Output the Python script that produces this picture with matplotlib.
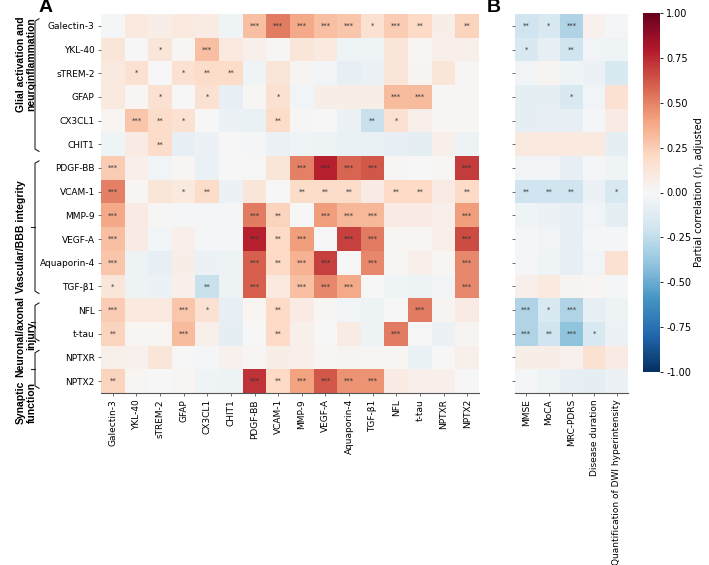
import numpy as np
import matplotlib
matplotlib.use("Agg")
import matplotlib.pyplot as plt
from matplotlib import transforms

# biomarcadores (linhas e colunas do painel A)
marcadores = ['Galectin-3', 'YKL-40', 'sTREM-2', 'GFAP', 'CX3CL1', 'CHIT1',
              'PDGF-BB', 'VCAM-1', 'MMP-9', 'VEGF-A', 'Aquaporin-4', 'TGF-β1',
              'NFL', 't-tau', 'NPTXR', 'NPTX2']

# medidas clinicas (colunas do painel B)
clinicas = ['MMSE', 'MoCA', 'MRC-PDRS', 'Disease duration',
            'Quantification of DWI hyperintensity']

# grupos: (nome, primeira linha, ultima linha)
grupos = [('Glial activation and\nneuroinflammation', 0, 5),
          ('Vascular/BBB integrity', 6, 11),
          ('Neuronal/axonal\ninjury', 12, 13),
          ('Synaptic\nfunction', 14, 15)]

# correlacoes parciais entre biomarcadores
corr_a = np.array([
    [-0.02, 0.10, 0.07, 0.10, 0.08, -0.04, 0.30, 0.52, 0.38, 0.30, 0.28, 0.15, 0.25, 0.20, 0.06, 0.22],
    [0.12, 0.00, 0.12, 0.02, 0.30, 0.10, 0.05, 0.01, 0.12, 0.10, -0.04, -0.04, 0.12, 0.02, 0.05, 0.05],
    [0.10, 0.15, 0.00, 0.15, 0.18, 0.18, -0.04, 0.12, 0.03, -0.03, -0.08, -0.06, 0.12, 0.03, 0.12, 0.01],
    [0.10, 0.02, 0.15, 0.00, 0.15, -0.08, 0.01, 0.15, -0.03, 0.06, 0.07, 0.06, 0.32, 0.32, 0.01, 0.01],
    [0.02, 0.28, 0.18, 0.15, 0.00, -0.06, -0.07, 0.18, 0.01, 0.00, -0.06, -0.22, 0.15, 0.05, 0.02, 0.01],
    [-0.04, 0.08, 0.18, -0.08, -0.06, 0.00, -0.02, -0.06, -0.04, -0.05, -0.07, -0.07, -0.08, -0.09, 0.05, -0.05],
    [0.25, 0.05, -0.03, 0.02, -0.07, 0.00, 0.00, 0.12, 0.50, 0.78, 0.58, 0.62, 0.01, 0.00, 0.01, 0.70],
    [0.50, 0.02, 0.12, 0.10, 0.18, -0.06, 0.12, 0.00, 0.18, 0.18, 0.18, 0.08, 0.20, 0.20, 0.08, 0.20],
    [0.38, 0.08, 0.01, -0.01, -0.01, -0.02, 0.52, 0.22, 0.00, 0.42, 0.33, 0.33, 0.08, 0.08, 0.05, 0.42],
    [0.30, 0.08, -0.03, 0.05, -0.01, -0.02, 0.78, 0.20, 0.42, 0.00, 0.68, 0.52, 0.02, 0.01, 0.05, 0.65],
    [0.28, -0.05, -0.08, 0.06, -0.06, -0.05, 0.60, 0.20, 0.35, 0.68, 0.00, 0.48, 0.01, 0.05, 0.02, 0.48],
    [0.12, -0.05, -0.06, 0.05, -0.22, -0.05, 0.60, 0.10, 0.30, 0.48, 0.38, 0.00, -0.04, -0.05, -0.03, 0.48],
    [0.25, 0.10, 0.10, 0.28, 0.15, -0.08, 0.02, 0.20, 0.08, 0.02, -0.03, -0.05, 0.00, 0.52, 0.03, 0.08],
    [0.22, 0.02, 0.02, 0.32, 0.05, -0.10, 0.00, 0.20, 0.05, 0.00, 0.08, -0.05, 0.52, 0.00, -0.06, 0.03],
    [0.05, 0.04, 0.12, 0.00, -0.02, 0.04, 0.01, 0.06, 0.05, 0.02, 0.03, 0.01, 0.02, -0.07, 0.00, 0.05],
    [0.22, 0.02, 0.00, 0.02, -0.04, -0.05, 0.72, 0.20, 0.40, 0.62, 0.45, 0.45, 0.08, 0.05, 0.05, 0.00],
])

# numero de asteriscos (significancia) no painel A
sig_a = np.array([
    [0, 0, 0, 0, 0, 0, 3, 3, 3, 3, 3, 1, 3, 2, 0, 2],
    [0, 0, 1, 0, 3, 0, 0, 0, 0, 0, 0, 0, 0, 0, 0, 0],
    [0, 1, 0, 1, 2, 2, 0, 0, 0, 0, 0, 0, 0, 0, 0, 0],
    [0, 0, 1, 0, 1, 0, 0, 1, 0, 0, 0, 0, 3, 3, 0, 0],
    [0, 3, 2, 1, 0, 0, 0, 2, 0, 0, 0, 2, 1, 0, 0, 0],
    [0, 0, 2, 0, 0, 0, 0, 0, 0, 0, 0, 0, 0, 0, 0, 0],
    [3, 0, 0, 0, 0, 0, 0, 0, 3, 3, 3, 3, 0, 0, 0, 3],
    [3, 0, 0, 1, 2, 0, 0, 0, 2, 2, 2, 0, 2, 2, 0, 2],
    [3, 0, 0, 0, 0, 0, 3, 2, 0, 3, 3, 3, 0, 0, 0, 3],
    [3, 0, 0, 0, 0, 0, 3, 2, 3, 0, 3, 3, 0, 0, 0, 3],
    [3, 0, 0, 0, 0, 0, 3, 2, 3, 3, 0, 3, 0, 0, 0, 3],
    [1, 0, 0, 0, 2, 0, 3, 0, 3, 3, 3, 0, 0, 0, 0, 3],
    [3, 0, 0, 3, 1, 0, 0, 2, 0, 0, 0, 0, 0, 3, 0, 0],
    [2, 0, 0, 3, 0, 0, 0, 2, 0, 0, 0, 0, 3, 0, 0, 0],
    [0, 0, 0, 0, 0, 0, 0, 0, 0, 0, 0, 0, 0, 0, 0, 0],
    [2, 0, 0, 0, 0, 0, 3, 2, 3, 3, 3, 3, 0, 0, 0, 0],
])

# correlacoes com medidas clinicas (painel B)
corr_b = np.array([
    [-0.20, -0.15, -0.30, 0.04, -0.02],
    [-0.15, -0.08, -0.20, -0.03, -0.04],
    [-0.03, 0.03, -0.04, -0.06, -0.15],
    [-0.10, -0.10, -0.15, -0.03, 0.15],
    [-0.10, -0.08, -0.08, -0.02, 0.08],
    [0.10, 0.10, 0.10, 0.10, -0.10],
    [-0.03, -0.03, -0.08, -0.02, -0.04],
    [-0.20, -0.20, -0.20, -0.06, -0.15],
    [-0.04, -0.06, -0.08, -0.03, -0.10],
    [-0.02, -0.03, -0.08, -0.02, -0.01],
    [-0.02, -0.04, -0.08, -0.03, 0.15],
    [0.05, 0.10, 0.03, 0.02, -0.02],
    [-0.30, -0.15, -0.30, -0.08, -0.05],
    [-0.30, -0.20, -0.40, -0.15, -0.06],
    [0.06, 0.06, 0.04, 0.15, 0.08],
    [-0.02, -0.04, -0.08, -0.10, -0.06],
])

sig_b = np.array([
    [2, 1, 3, 0, 0],
    [1, 0, 2, 0, 0],
    [0, 0, 0, 0, 0],
    [0, 0, 1, 0, 0],
    [0, 0, 0, 0, 0],
    [0, 0, 0, 0, 0],
    [0, 0, 0, 0, 0],
    [2, 2, 2, 0, 1],
    [0, 0, 0, 0, 0],
    [0, 0, 0, 0, 0],
    [0, 0, 0, 0, 0],
    [0, 0, 0, 0, 0],
    [3, 1, 3, 0, 0],
    [3, 2, 3, 1, 0],
    [0, 0, 0, 0, 0],
    [0, 0, 0, 0, 0],
])

W, H = 709, 565


def retangulo(x0, y0, x1, y1):
    return [x0 / W, 1 - y1 / H, (x1 - x0) / W, (y1 - y0) / H]


def desenhar_heatmap(ax, valores, sig, xlabels, ylabels):
    im = ax.imshow(valores, cmap='RdBu_r', vmin=-1, vmax=1, aspect='auto',
                   interpolation='nearest')
    for i in range(valores.shape[0]):
        for j in range(valores.shape[1]):
            if sig[i, j] > 0:
                ax.text(j, i, '*' * sig[i, j], ha='center', va='center',
                        fontsize=5, color='#333333')
    ax.set_xticks(range(len(xlabels)))
    ax.set_xticklabels(xlabels, rotation=90, fontsize=6.5)
    ax.set_yticks(range(valores.shape[0]))
    ax.set_yticklabels(ylabels, fontsize=6.5)
    ax.tick_params(length=2.5, width=0.6, color='#555555', pad=2)
    for lado in ['top', 'right', 'left']:
        ax.spines[lado].set_visible(False)
    ax.spines['bottom'].set_color('#555555')
    ax.spines['bottom'].set_linewidth(0.8)
    return im


fig = plt.figure(figsize=(W / 100, H / 100), dpi=100)

axA = fig.add_axes(retangulo(101, 14, 479, 393))
axB = fig.add_axes(retangulo(515, 14, 628, 393))
cax = fig.add_axes(retangulo(643, 13, 660, 372))

im = desenhar_heatmap(axA, corr_a, sig_a, marcadores, marcadores)
desenhar_heatmap(axB, corr_b, sig_b, clinicas, [''] * len(marcadores))

cb = fig.colorbar(im, cax=cax, ticks=np.arange(-1, 1.01, 0.25), format='%.2f')
cb.outline.set_visible(False)
cb.ax.tick_params(labelsize=7, length=2.5, width=0.6, pad=2)
cb.set_label('Partial correlation (r), adjusted', fontsize=7, labelpad=2)

# chaves e nomes dos grupos a esquerda
trans = transforms.blended_transform_factory(axA.transAxes, axA.transData)
x_linha = (35 - 101) / 378
x_gancho = (39 - 101) / 378
x_meio = (31 - 101) / 378
# posicao vertical do texto de cada grupo (em linhas)
y_textos = [1.6, 8.9, 13.1, 15.9]
for (nome, r0, r1), yt in zip(grupos, y_textos):
    y0 = r0 - 0.5 + 0.3
    y1 = r1 + 0.5 - 0.3
    ym = (y0 + y1) / 2
    axA.plot([x_gancho, x_linha, x_linha, x_gancho], [y0 - 0.1, y0, y1, y1 + 0.1],
             transform=trans, clip_on=False, color='#222222', lw=0.8)
    axA.plot([x_linha, x_meio], [ym, ym], transform=trans, clip_on=False,
             color='#222222', lw=0.8)
    if '\n' in nome:
        x_texto = (26 - 101) / 378
    else:
        x_texto = (21 - 101) / 378
    axA.text(x_texto, yt, nome, transform=trans, rotation=90, ha='center',
             va='center', fontsize=7.5, fontweight='bold', multialignment='center',
             family=['Liberation Sans', 'DejaVu Sans'], clip_on=False,
             linespacing=1.1)

fig.text(46 / W, 1 - 8 / H, 'A', fontsize=14, fontweight='bold', ha='center', va='center',
         family=['Liberation Sans', 'DejaVu Sans'])
fig.text(494 / W, 1 - 8 / H, 'B', fontsize=14, fontweight='bold', ha='center', va='center',
         family=['Liberation Sans', 'DejaVu Sans'])

fig.savefig('out.png', dpi=100)
